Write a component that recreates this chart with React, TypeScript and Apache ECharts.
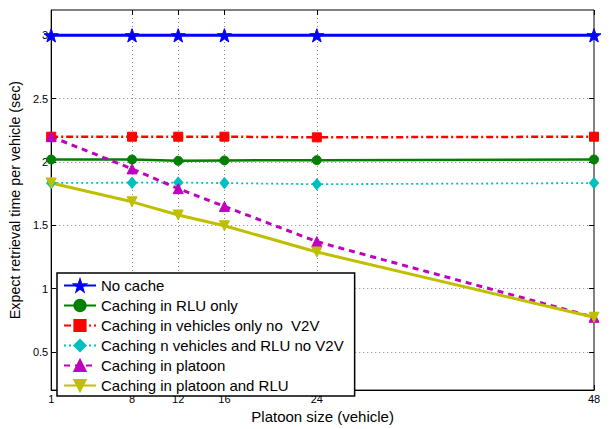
import React, { useEffect, useRef } from "react";
import * as echarts from "echarts";

const xValues = [1, 8, 12, 16, 24, 48];
const xTicks = [1, 8, 12, 16, 24, 48];
const yTicks = [0.5, 1, 1.5, 2, 2.5, 3];

const noCache = [3, 3, 3, 3, 3, 3];
const rluOnly = [2.02, 2.02, 2.01, 2.013, 2.015, 2.02];
const vehiclesNoV2V = [2.2, 2.2, 2.2, 2.2, 2.195, 2.2];
const vehiclesRluNoV2V = [1.835, 1.837, 1.838, 1.834, 1.825, 1.834];
const platoon = [2.2, 1.946, 1.79, 1.65, 1.372, 0.775];
const platoonRlu = [1.835, 1.686, 1.582, 1.497, 1.29, 0.775];

const seriesNames = [
  "No cache",
  "Caching in RLU only",
  "Caching in vehicles only no  V2V",
  "Caching n vehicles and RLU no V2V",
  "Caching in platoon",
  "Caching in platoon and RLU",
];

const STAR =
  "path://M100 0 L123.5 67.6 L195.1 69.1 L138 112.4 L158.8 180.9 L100 140 L41.2 180.9 L62 112.4 L4.9 69.1 L76.5 67.6 Z";

export default function App() {
  const ref = useRef<HTMLDivElement>(null);
  useEffect(() => {
    if (!ref.current) return;
    const chart = echarts.init(ref.current, null, { renderer: "svg" });
    const font = "'Liberation Sans', Arial, Helvetica, sans-serif";
    const pair = (arr: number[]) => xValues.map((x, i) => [x, arr[i]]);
    const mk = (
      name: string,
      data: number[],
      color: string,
      width: number,
      type: any,
      symbol: string,
      size: number | number[],
      rotate = 0
    ) => ({
      type: "line",
      name,
      data: pair(data),
      xAxisIndex: 0,
      yAxisIndex: 0,
      symbol,
      symbolSize: size,
      symbolRotate: rotate,
      symbolKeepAspect: true,
      showAllSymbol: true,
      lineStyle: { color, width, type },
      itemStyle: { color, borderColor: color, borderWidth: 1 },
      emphasis: { disabled: true },
      z: 3,
    });
    const gridLine = { show: true, lineStyle: { color: "#888", type: [1, 3], width: 1 } };
    chart.setOption({
      animation: false,
      textStyle: { fontFamily: font },
      grid: {
        left: 48,
        right: 17,
        top: 10,
        bottom: 31,
        show: true,
        borderColor: "#000",
        borderWidth: 1,
        backgroundColor: "transparent",
      },
      xAxis: [
        {
          type: "value",
          min: 1,
          max: 48,
          position: "bottom",
          name: "Platoon size (vehicle)",
          nameLocation: "middle",
          nameGap: 17,
          nameTextStyle: { fontSize: 15, color: "#000", fontFamily: font },
          axisLine: { show: true, lineStyle: { color: "#000", width: 1 } },
          axisTick: { show: true, inside: true, length: 5, customValues: xTicks, lineStyle: { color: "#000" } },
          axisLabel: { customValues: xTicks, fontSize: 11, color: "#000", margin: 3, fontFamily: font },
          splitLine: gridLine,
        },
        {
          type: "value",
          min: 1,
          max: 48,
          position: "top",
          axisLine: { show: false },
          axisTick: { show: true, inside: true, length: 5, customValues: xTicks, lineStyle: { color: "#000" } },
          axisLabel: { show: false },
          splitLine: { show: false },
        },
      ],
      yAxis: [
        {
          type: "value",
          min: 0.2,
          max: 3.2,
          position: "left",
          name: "Expect retrieval time per vehicle (sec)",
          nameLocation: "middle",
          nameGap: 23,
          nameTextStyle: { fontSize: 14.3, color: "#000", fontFamily: font },
          axisLine: { show: true, lineStyle: { color: "#000", width: 1 } },
          axisTick: { show: true, inside: true, length: 5, customValues: yTicks, lineStyle: { color: "#000" } },
          axisLabel: { customValues: yTicks, fontSize: 11, color: "#000", margin: 3, fontFamily: font },
          splitLine: gridLine,
        },
        {
          type: "value",
          min: 0.2,
          max: 3.2,
          position: "right",
          axisLine: { show: false },
          axisTick: { show: true, inside: true, length: 5, customValues: yTicks, lineStyle: { color: "#000" } },
          axisLabel: { show: false },
          splitLine: { show: false },
        },
      ],
      legend: {
        orient: "vertical",
        left: 57,
        top: 273,
        itemWidth: 32,
        itemHeight: 14,
        itemGap: 5,
        padding: [5, 11, 3, 6],
        backgroundColor: "#fff",
        borderColor: "#000",
        borderWidth: 1.5,
        textStyle: { fontSize: 15, color: "#000", fontFamily: font },
        data: seriesNames,
        z: 10,
      },
      series: [
        mk(seriesNames[0], noCache, "#0000ff", 3, "solid", STAR, 14),
        mk(seriesNames[1], rluOnly, "#008000", 2.5, "solid", "circle", 9),
        mk(seriesNames[2], vehiclesNoV2V, "#ff0000", 2.5, [7, 3, 2, 3], "rect", 9),
        mk(seriesNames[3], vehiclesRluNoV2V, "#00bfbf", 1.8, [2, 3], "diamond", [9, 11]),
        mk(seriesNames[4], platoon, "#bf00bf", 3, [6, 5], "triangle", 10),
        mk(seriesNames[5], platoonRlu, "#bfbf00", 3, "solid", "triangle", 10, 180),
      ],
    });
    return () => chart.dispose();
  }, []);
  return (
    <div
      ref={ref}
      style={{ position: "fixed", left: 0, top: 0, width: 611, height: 429, background: "#fff" }}
    />
  );
}
